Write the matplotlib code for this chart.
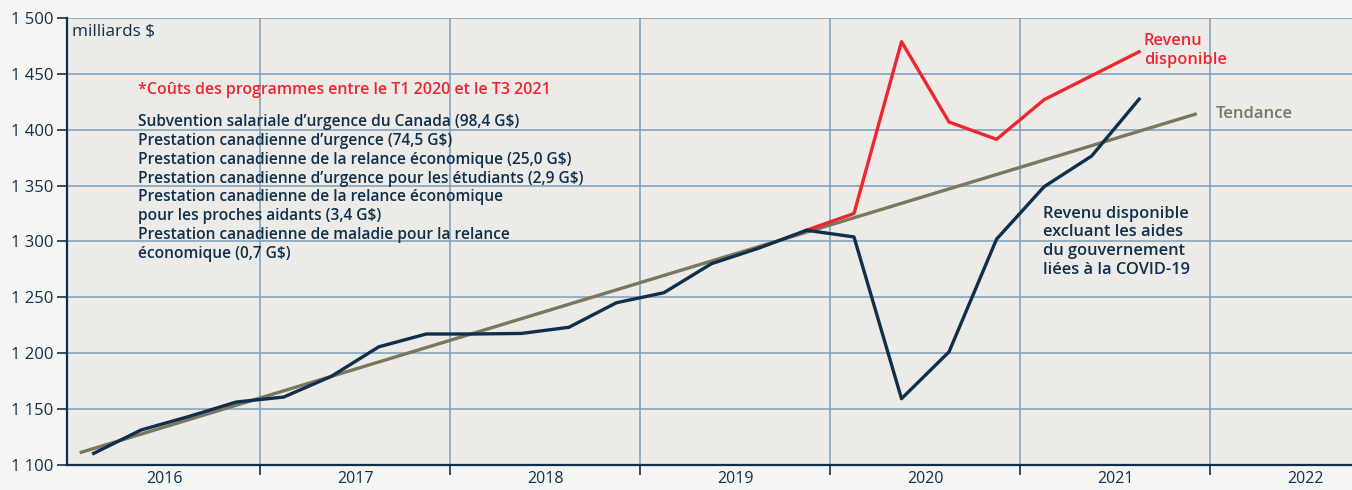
import matplotlib.pyplot as plt
from matplotlib.ticker import FixedLocator, FuncFormatter

plt.rcParams['font.family'] = ['Open Sans', 'DejaVu Sans']

# quarterly data, 2016 T1 .. 2021 T3 (milliards $)
years = [2016, 2017, 2018, 2019, 2020, 2021, 2022]
quarters = [(y, q) for y in range(2016, 2022) for q in range(1, 5)][:23]

excl_covid = [1110, 1131, 1143, 1156,
              1160.5, 1179, 1205.5, 1217,
              1217, 1217.5, 1223, 1245,
              1254, 1280, 1294, 1310,
              1304, 1159, 1201, 1302,
              1349, 1376.5, 1427.5]

# disposable income, from 2019 T4 on (same as the other line before)
revenu_q = quarters[15:]
revenu = [1310, 1325, 1479, 1407, 1391.5, 1427, 1448.5, 1470]

trend_x = [2016.06, 2021.92]
trend_y = [1111, 1414]

programmes = [
    "Subvention salariale d\u2019urgence du Canada (98,4 G$)",
    "Prestation canadienne d\u2019urgence (74,5 G$)",
    "Prestation canadienne de la relance \u00e9conomique (25,0 G$)",
    "Prestation canadienne d\u2019urgence pour les \u00e9tudiants (2,9 G$)",
    "Prestation canadienne de la relance \u00e9conomique\npour les proches aidants (3,4 G$)",
    "Prestation canadienne de maladie pour la relance\n\u00e9conomique (0,7 G$)",
]

navy = "#0f2f4c"
red = "#ee2630"
olive = "#7a7660"
grid_c = "#7c9fb9"


def qx(q):
    return q[0] + (q[1] - 0.5) / 4


fig = plt.figure(figsize=(13.52, 4.90), dpi=100, facecolor="#f5f5f3")
ax = fig.add_axes([0.0496, 0.052, 0.9504, 0.9107])
ax.set_facecolor("#ecebe8")

ax.set_xlim(2015.985, 2022.745)
ax.set_ylim(1100, 1500)

# grid
ax.xaxis.set_major_locator(FixedLocator(years[1:]))
ax.xaxis.set_minor_locator(FixedLocator([y + 0.5 for y in years]))
ax.set_yticks(range(1100, 1501, 50))
ax.grid(True, which="major", color=grid_c, linewidth=1.1, zorder=0)
ax.set_axisbelow(True)

ax.xaxis.set_major_formatter(FuncFormatter(lambda v, p: ""))
ax.xaxis.set_minor_formatter(FuncFormatter(lambda v, p: str(int(v))))
ax.tick_params(axis="x", which="major", length=7, width=1.2, color=navy)
ax.tick_params(axis="x", which="minor", length=0, labelsize=11.5, labelcolor=navy, pad=5)
ax.yaxis.set_major_formatter(FuncFormatter(lambda v, p: f"{int(v):,}".replace(",", " ")))
ax.tick_params(axis="y", length=7, width=1.2, color=navy, labelsize=12, labelcolor=navy, pad=3)

for s in ["top", "right"]:
    ax.spines[s].set_visible(False)
for s in ["left", "bottom"]:
    ax.spines[s].set_color(navy)
    ax.spines[s].set_linewidth(1.6)

ax.plot(trend_x, trend_y, color=olive, linewidth=2.4, zorder=3)
ax.plot([qx(q) for q in revenu_q], revenu, color=red, linewidth=2.4, zorder=4)
ax.plot([qx(q) for q in quarters], excl_covid, color=navy, linewidth=2.4, zorder=5)

# texts
ax.text(2016.01, 1488, "milliards $", color=navy, fontsize=12.3, va="center")
ax.text(2016.36, 1436, "*Co\u00fbts des programmes entre le T1 2020 et le T3 2021",
        color=red, fontsize=11.5, fontweight="semibold", va="center")
ax.text(2016.36, 1414, "\n".join(programmes), color=navy, fontsize=11.2,
        fontweight="semibold", va="top", linespacing=1.235)

ax.text(2021.65, 1471, "Revenu\ndisponible", color=red, fontsize=11.8,
        fontweight="semibold", va="center", ha="left", linespacing=1.22)
ax.text(2022.03, 1414, "Tendance", color=olive, fontsize=12,
        fontweight="semibold", va="center")
ax.text(2021.12, 1332, "Revenu disponible\nexcluant les aides\ndu gouvernement\nli\u00e9es \u00e0 la COVID-19",
        color=navy, fontsize=11.8, fontweight="semibold", va="top", linespacing=1.23)

fig.savefig("out.png", dpi=100, facecolor=fig.get_facecolor())
